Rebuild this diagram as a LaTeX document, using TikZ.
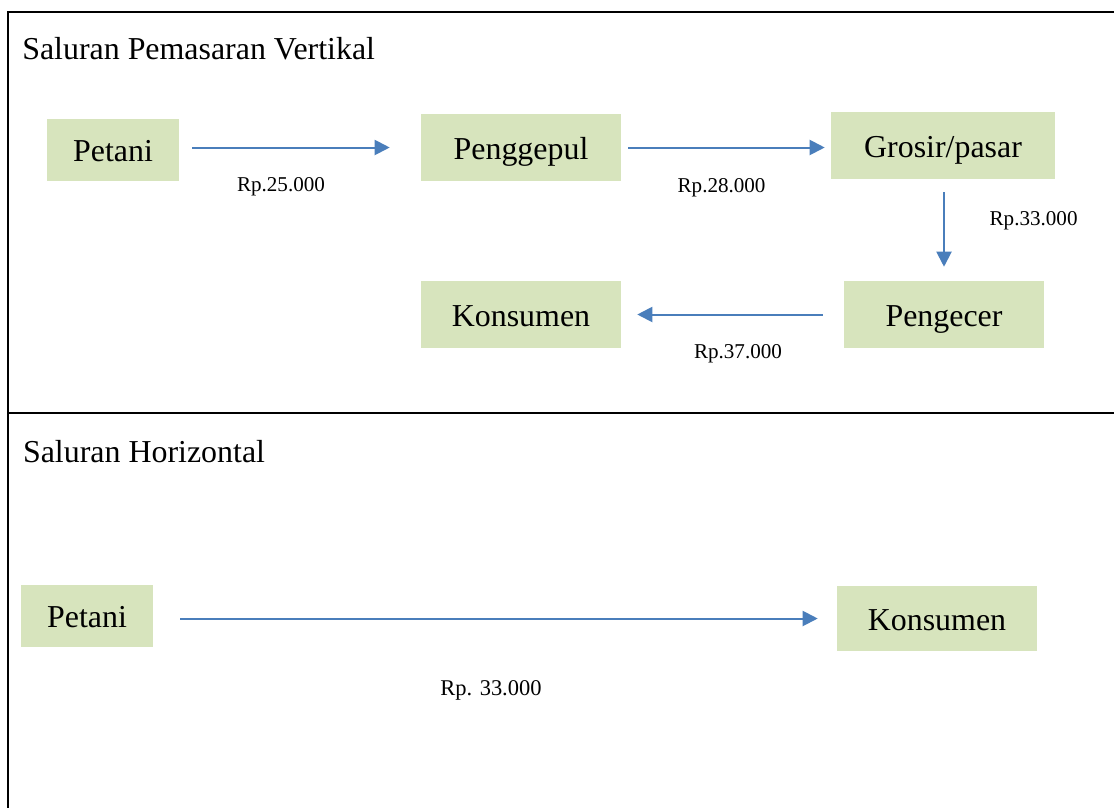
\documentclass[tikz,border=0pt]{standalone}
\usepackage{fontspec}
\setmainfont{Liberation Serif}
\usetikzlibrary{positioning,arrows.meta}
\definecolor{actorC}{HTML}{D7E4BD}
\definecolor{flowC}{HTML}{4A7EBB}
\tikzset{
  actor/.style={fill=actorC, inner sep=0pt, minimum width=5cm, minimum height=1.675cm,
                text height=0.6cm, text depth=0.02cm, font=\fontsize{22.7}{27}\selectfont},
  smallactor/.style={actor, minimum width=3.3cm, minimum height=1.55cm},
  flow/.style={-{Triangle[length=0.38cm,width=0.38cm]}, draw=flowC, line width=0.05cm},
  price/.style={anchor=base, font=\fontsize{15}{18}\selectfont, inner sep=0pt},
  heading/.style={anchor=base west, inner sep=0pt, font=\fontsize{22.7}{27}\selectfont},
  border/.style={line width=0.05cm},
}

\begin{document}
\begin{tikzpicture}
\useasboundingbox (0,0) rectangle (27.85,-20.2);
% frame of the two panels
\draw[border] (27.85,-0.3) -- (0.2,-0.3) -- (0.2,-20.2);
\draw[border] (0.2,-10.325) -- (27.85,-10.325);

% vertical channel
\node[heading] (judul1) at (0.55,-1.475) {Saluran Pemasaran Vertikal};
\node[smallactor] (petani) at (2.825,-3.75) {Petani};
\node[actor] (penggepul) at (13.025,-3.6875) {Penggepul};
\node[actor, minimum width=5.6cm] (grosir) at (23.575,-3.6375) {Grosir/pasar};
\node[actor] (pengecer) at (23.6,-7.8625) {Pengecer};
\node[actor] (konsumen) at (13.025,-7.8625) {Konsumen};

\draw[flow, shorten <=0.325cm, shorten >=0.775cm] (petani.east |- penggepul.west) -- (penggepul.west);
\draw[flow, shorten <=0.175cm, shorten >=0.15cm] (penggepul.east) -- (penggepul.east -| grosir.west);
\draw[flow, shorten <=0.325cm, shorten >=0.35cm] (grosir.south -| pengecer.north) -- (pengecer.north);
\draw[flow, shorten <=0.525cm, shorten >=0.4cm] (pengecer.west) -- (pengecer.west -| konsumen.east);

\node[price] (h25) at (7.025,-4.775) {Rp.25.000};
\node[price] (h28) at (18.04,-4.82) {Rp.28.000};
\node[price] (h33) at (25.84,-5.64) {Rp.33.000};
\node[price] (h37) at (18.45,-8.95) {Rp.37.000};

% horizontal channel
\node[heading] (judul2) at (0.57,-11.55) {Saluran Horizontal};
\node[smallactor] (petani2) at (2.175,-15.4) {Petani};
\node[actor, minimum height=1.625cm] (konsumen2) at (23.425,-15.4625) {Konsumen};
\draw[flow, shorten <=0.675cm, shorten >=0.475cm] (petani2.east |- konsumen2.west) -- (konsumen2.west);
\node[price, font=\fontsize{16}{19}\selectfont] (h33b) at (12.275,-17.375) {Rp. 33.000};
\end{tikzpicture}
\end{document}
